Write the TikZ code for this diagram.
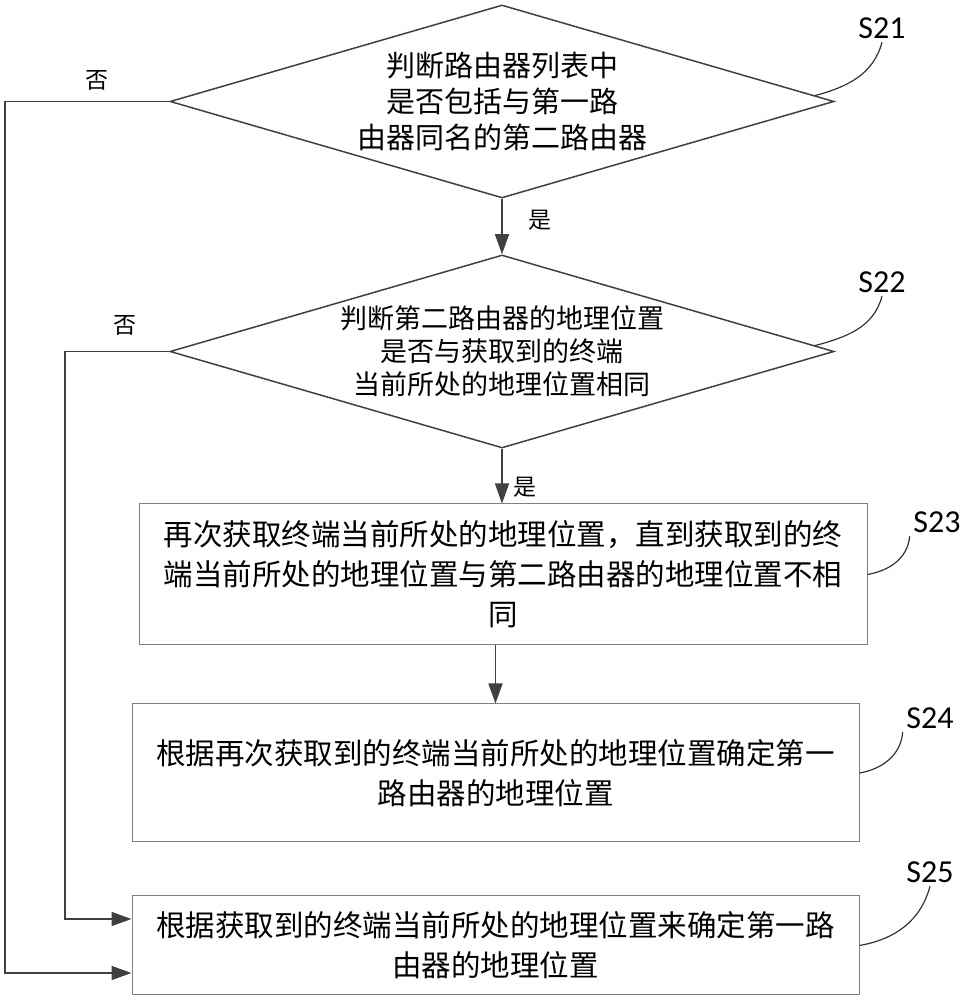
\documentclass[tikz,border=0pt]{standalone}
\usepackage{fontspec}
\newfontfamily\cjk{Noto Sans CJK SC}
\newfontfamily\stepfont{Carlito}
\usetikzlibrary{shapes.geometric, arrows.meta, calc}

\begin{document}
\begin{tikzpicture}[x=1pt, y=1pt, line width=1.5pt,
  decision/.style={diamond, draw=black!75, aspect=3.44, inner sep=0pt,
    minimum width=664pt, minimum height=193pt, align=center},
  process/.style={rectangle, draw=black!50, line width=1pt, inner sep=0pt,
    align=center, font=\cjk\fontsize{29.5}{40}\selectfont},
  flow/.style={draw=black!75, -{Triangle[length=20pt, width=14pt]}},
  yesno/.style={font=\cjk\fontsize{23}{23}\selectfont},
  steplabel/.style={font=\stepfont\fontsize{32}{32}\selectfont, inner sep=3pt},
  stepline/.style={draw=black!80, line width=1.2pt}]

\useasboundingbox (0, 0) rectangle (963, 1000);

% draw decisions
\node[decision, font=\cjk\fontsize{29}{36}\selectfont] (d1) at (502, 898.5)
  {判断路由器列表中\\是否包括与第一路\\由器同名的第二路由器};
\node[decision, font=\cjk\fontsize{27}{33}\selectfont] (d2) at (502, 648.5)
  {判断第二路由器的地理位置\\是否与获取到的终端\\当前所处的地理位置相同};

% draw process boxes
\node[process, minimum width=728pt, minimum height=141pt] (b23) at (503, 425.5)
  {再次获取终端当前所处的地理位置，直到获取到的终\\端当前所处的地理位置与第二路由器的地理位置不相\\同};
\node[process, minimum width=727pt, minimum height=138pt] (b24) at (495.5, 227)
  {根据再次获取到的终端当前所处的地理位置确定第一\\路由器的地理位置};
\node[process, minimum width=727pt, minimum height=99pt] (b25) at (495.5, 54.5)
  {根据获取到的终端当前所处的地理位置来确定第一路\\由器的地理位置};

% draw yes/no labels
\node[yesno] (no1) at (97, 920) {否};
\node[yesno] (yes1) at (540, 780) {是};
\node[yesno] (no2) at (125, 675) {否};
\node[yesno] (yes2) at (525, 513) {是};

% draw flow
\draw[flow] (d1.south) -- (d2.north);
\draw[flow] (d2.south) -- (d2.south |- b23.north);
\draw[flow] (b23.south -| b24.north) -- (b24.north);

% draw 'no' branches
\coordinate (noA) at (5, 27);
\coordinate (noB) at (65, 81);
\draw[flow] (d1.west) -| (noA) -- (noA -| b25.west);
\draw[flow] (d2.west) -| (noB) -- (noB -| b25.west);

% draw step labels
\node[steplabel] (s21) at (882, 972) {S21};
\node[steplabel] (s22) at (882, 718) {S22};
\node[steplabel] (s23) at (937, 478) {S23};
\node[steplabel] (s24) at (930, 282) {S24};
\node[steplabel] (s25) at (930, 128) {S25};

\draw[stepline] (s21.south) to[out=-105, in=15] ($(d1.east)!0.06!(d1.north)$);
\draw[stepline] (s22.south) to[out=-105, in=15] ($(d2.east)!0.06!(d2.north)$);
\draw[stepline] (s23.south west) to[out=-95, in=10] (b23.east);
\draw[stepline] (s24.south west) to[out=-95, in=10] (b24.east);
\draw[stepline] (s25.south) to[out=-105, in=10] (b25.east);

\end{tikzpicture}
\end{document}
